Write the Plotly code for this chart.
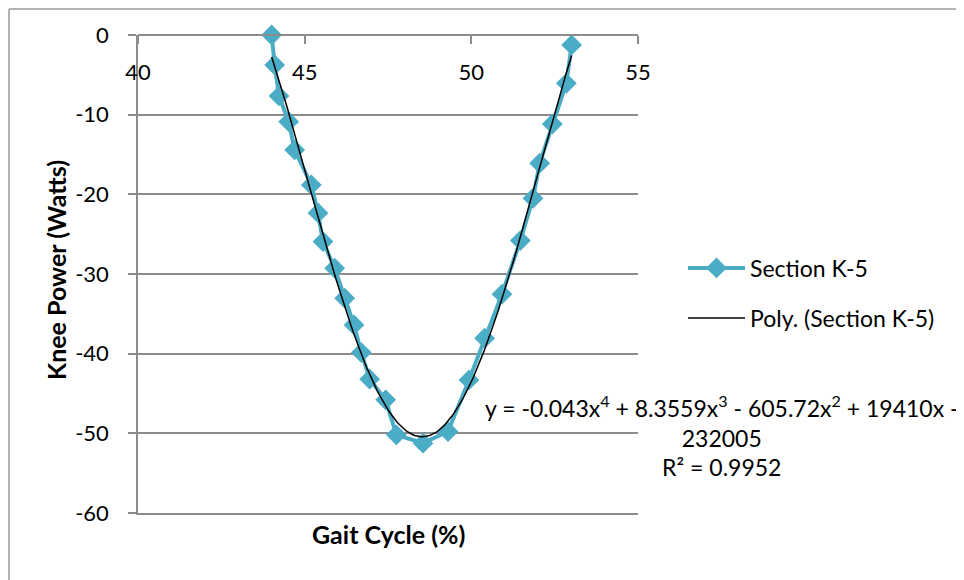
import numpy as np
import plotly.graph_objects as go

# Data
gait_cycle = [44.01, 44.10, 44.23, 44.52, 44.70, 45.20, 45.40, 45.55, 45.90, 46.20,
              46.48, 46.70, 46.95, 47.43, 47.75, 48.55, 49.30, 49.93, 50.40, 50.92,
              51.47, 51.85, 52.05, 52.43, 52.85, 53.01]
knee_power = [0.0, -3.76, -7.65, -10.88, -14.43, -18.82, -22.33, -25.93, -29.27, -33.04,
              -36.39, -39.86, -43.2, -45.8, -50.19, -51.23, -49.77, -43.29, -38.06, -32.53,
              -25.81, -20.49, -16.10, -11.17, -6.06, -1.25]
x_ticks = [40, 45, 50, 55]
x_tick_labels = ["40", "45", "50", "55"]
y_ticks = [0, -10, -20, -30, -40, -50, -60]
y_tick_labels = ["0", "-10", "-20", "-30", "-40", "-50", "-60"]
series_name = "Section K-5"
trend_name = "Poly. (Section K-5)"
equation_text = ("y = -0.043x<sup>4</sup> + 8.3559x<sup>3</sup> - 605.72x<sup>2</sup> + 19410x -"
                 "<br>232005<br>R² = 0.9952")
x_title = "Gait Cycle (%)"
y_title = "Knee Power (Watts)"

FONT = "Lato"
AQUA = "#4BACC6"
GRID = "#8C8C8C"

# 4th-order polynomial trendline fitted to the series (as the spreadsheet does)
coef = np.polyfit(gait_cycle, knee_power, 4)
trend_x = np.linspace(min(gait_cycle), max(gait_cycle), 200)
trend_y = np.polyval(coef, trend_x)

fig = go.Figure()
fig.add_trace(go.Scatter(
    x=gait_cycle, y=knee_power, mode="lines+markers", name=series_name,
    line=dict(color=AQUA, width=4),
    marker=dict(symbol="diamond", size=16, color=AQUA),
    cliponaxis=False, legend="legend",
))
fig.add_trace(go.Scatter(
    x=trend_x, y=trend_y, mode="lines", name=trend_name,
    line=dict(color="black", width=1.5),
    cliponaxis=False, legend="legend2",
))

# figure is placed at an 8px page offset; all pixel positions below are figure px
W, H = 956, 572
L, R, T, B = 130, 630, 27, 505

def px(x):
    return (x - L) / (R - L)

def py(y):
    return (B - y) / (B - T)

fig.update_layout(
    width=W, height=H, autosize=False,
    margin=dict(l=L, r=W - R, t=T, b=H - B),
    paper_bgcolor="white", plot_bgcolor="white",
    font=dict(family=FONT, size=22, color="black"),
    xaxis=dict(
        range=[40, 55], tickvals=x_ticks, ticktext=x_tick_labels,
        anchor="free", position=1, side="bottom",
        ticks="outside", ticklen=8, tickcolor=GRID, tickwidth=1.5,
        ticklabelstandoff=10,
        showline=True, linecolor=GRID, linewidth=1.5,
        showgrid=False, zeroline=False,
        tickfont=dict(family=FONT, size=22),
    ),
    xaxis2=dict(
        range=[40, 55], overlaying="x", anchor="y", side="bottom",
        showline=True, linecolor=GRID, linewidth=1.5,
        showticklabels=False, ticks="", showgrid=False, zeroline=False,
    ),
    yaxis=dict(
        range=[-60, 0], tickvals=y_ticks, ticktext=y_tick_labels,
        ticks="outside", ticklen=8, tickcolor=GRID, tickwidth=1.5,
        ticklabelstandoff=15,
        showline=True, linecolor=GRID, linewidth=1.5,
        showgrid=True, gridcolor=GRID, gridwidth=1.5, zeroline=False,
        tickfont=dict(family=FONT, size=22),
    ),
    showlegend=True,
    legend=dict(x=px(675), y=py(260), xanchor="left", yanchor="middle",
                bgcolor="rgba(0,0,0,0)", itemwidth=57,
                font=dict(family=FONT, size=23)),
    legend2=dict(x=px(675), y=py(310), xanchor="left", yanchor="middle",
                 bgcolor="rgba(0,0,0,0)", itemwidth=57,
                 font=dict(family=FONT, size=23)),
    annotations=[
        dict(text=equation_text, xref="paper", yref="paper",
             x=px(714), y=py(428), xanchor="center", yanchor="middle",
             align="center", showarrow=False,
             font=dict(family=FONT, size=23)),
        dict(text="<b>" + y_title + "</b>", xref="paper", yref="paper",
             x=px(48), y=py(262), xanchor="center", yanchor="middle",
             textangle=-90, showarrow=False, font=dict(family=FONT, size=25)),
        dict(text="<b>" + x_title + "</b>", xref="paper", yref="paper",
             x=0.5, y=py(526), xanchor="center", yanchor="middle",
             showarrow=False, font=dict(family=FONT, size=25)),
    ],
    shapes=[
        dict(type="line", xref="paper", yref="paper",
             x0=px(1), x1=px(1), y0=py(1), y1=py(600),
             line=dict(color="#999999", width=1.5)),
        dict(type="line", xref="paper", yref="paper",
             x0=px(1), x1=px(990), y0=py(1), y1=py(1),
             line=dict(color="#999999", width=1.5)),
    ],
)

# an invisible helper trace so the bottom frame axis (x2) is drawn
fig.add_trace(go.Scatter(x=[40, 55], y=[None, None], xaxis="x2", yaxis="y",
                         showlegend=False, hoverinfo="skip"))

fig.write_html("out.html")
